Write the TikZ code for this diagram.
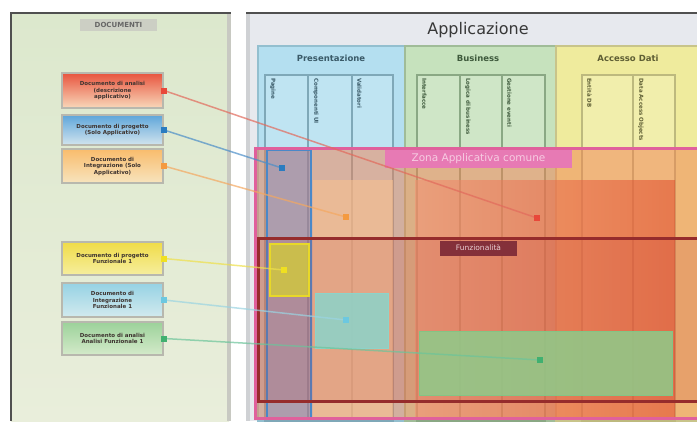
\documentclass[tikz,border=0pt]{standalone}
\usepackage{fontspec}
\setmainfont{DejaVu Sans}
% panels
\definecolor{frameline}{HTML}{505050}
\definecolor{docpanelA}{HTML}{DCE8CD}
\definecolor{docpanelB}{HTML}{E9EEDB}
\definecolor{panelgrey}{HTML}{C8C9C2}
\definecolor{apppanel}{HTML}{E7E9EE}
\definecolor{appedge}{HTML}{CFD1D4}
% documents
\definecolor{docedge}{HTML}{B8B8AE}
\definecolor{doctext}{HTML}{3E3430}
\definecolor{redA}{HTML}{E8543E}\definecolor{redB}{HTML}{F8D8BA}
\definecolor{blueA}{HTML}{5EA6DA}\definecolor{blueB}{HTML}{D2E4EE}
\definecolor{orA}{HTML}{F9BC6C}\definecolor{orB}{HTML}{F7E4BE}
\definecolor{yeA}{HTML}{F0DC48}\definecolor{yeB}{HTML}{F6EE9E}
\definecolor{cyA}{HTML}{96D2E4}\definecolor{cyB}{HTML}{D2EAEE}
\definecolor{grA}{HTML}{9CD29A}\definecolor{grB}{HTML}{D4EACA}
% connectors
\definecolor{cred}{HTML}{E26A5C}\definecolor{dred}{HTML}{E8483A}
\definecolor{cblue}{HTML}{4B8EC8}\definecolor{dblue}{HTML}{2A7CC0}
\definecolor{cor}{HTML}{F4A860}\definecolor{dor}{HTML}{F49A40}
\definecolor{cye}{HTML}{EEE04A}\definecolor{dye}{HTML}{F0E020}
\definecolor{ccy}{HTML}{9AD4E2}\definecolor{dcy}{HTML}{6CC8E0}
\definecolor{cgr}{HTML}{6CC49A}\definecolor{dgr}{HTML}{40B070}
% layers
\definecolor{presfill}{HTML}{B4DFF0}\definecolor{presedge}{HTML}{93BFCF}
\definecolor{prescol}{HTML}{7FA8B8}\definecolor{prestext}{HTML}{3A5A68}
\definecolor{busfill}{HTML}{C6E2BD}\definecolor{busedge}{HTML}{A0BC98}
\definecolor{buscol}{HTML}{8AA884}\definecolor{bustext}{HTML}{3E5A3C}
\definecolor{accfill}{HTML}{EFEB9D}\definecolor{accedge}{HTML}{C8C48A}
\definecolor{acccol}{HTML}{BDB97E}\definecolor{acctext}{HTML}{5E5E34}
% overlays
\definecolor{zoneedge}{HTML}{E0609C}\definecolor{zonefill}{HTML}{F08050}
\definecolor{zonelab}{HTML}{E77AB4}\definecolor{zonetext}{HTML}{F6CCE2}
\definecolor{orfill}{HTML}{F8C090}
\definecolor{redL}{HTML}{F49070}\definecolor{redR}{HTML}{E04828}
\definecolor{bluedge}{HTML}{4A88C8}\definecolor{bluefill}{HTML}{6078C8}
\definecolor{bandedge}{HTML}{962C2C}\definecolor{bandfill}{HTML}{C03030}
\definecolor{bandlab}{HTML}{84303A}\definecolor{bandtext}{HTML}{EAD0D4}
\definecolor{yeedge}{HTML}{E8D828}\definecolor{yefill}{HTML}{CFC640}
\definecolor{cyfill}{HTML}{8CD4CA}
\definecolor{grfill}{HTML}{8ECB8A}\definecolor{gredge}{HTML}{84C484}

\begin{document}
\begin{tikzpicture}[x=1pt,y=-1pt,
  docbox/.style 2 args={draw=docedge, line width=2pt, minimum width=101pt,
    inner sep=1pt, align=center, top color=#1, bottom color=#2,
    font=\fontsize{5.5}{6.5}\selectfont\bfseries, text=doctext},
  layerbox/.style 2 args={fill=#1, draw=#2, line width=1.5pt},
  subcol/.style 2 args={fill=#1, draw=#2, line width=1.8pt},
  layertitle/.style={font=\fontsize{8.5}{9}\selectfont\bfseries, inner sep=0pt},
  collabel/.style={rotate=-90, anchor=south west, inner sep=0pt,
    font=\fontsize{5.5}{5.5}\selectfont\bfseries},
  conn/.style={line width=1.5pt, draw opacity=0.7},
  dot/.style={fill=#1, minimum size=6pt, inner sep=0pt},
]
\useasboundingbox (0,0) rectangle (697,421);
\fill[white] (0,0) rectangle (697,421);

% ---------- document panel ----------
\shade[top color=docpanelA, bottom color=docpanelB] (11,13) rectangle (229,421);
\fill[panelgrey] (227,13) rectangle (231,421);
\draw[frameline, line width=1.5pt] (11,421) -- (11,13) -- (231,13);
\node[fill=panelgrey!80!docpanelA, text=black!60, minimum width=77pt,
      minimum height=12pt, inner sep=0pt, font=\fontsize{7}{7}\selectfont\bfseries]
      (doctitle) at (118.5,24.5) {DOCUMENTI};

\node[docbox={redA}{redB}, minimum height=35pt]  (d1) at (112.5,90.5)
  {Documento di analisi\\(descrizione\\applicativo)};
\node[docbox={blueA}{blueB}, minimum height=30pt] (d2) at (112.5,130)
  {Documento di progetto\\(Solo Applicativo)};
\node[docbox={orA}{orB}, minimum height=34pt]   (d3) at (112.5,166)
  {Documento di\\Integrazione (Solo\\Applicativo)};
\node[docbox={yeA}{yeB}, minimum height=33pt]   (d4) at (112.5,258.5)
  {Documento di progetto\\Funzionale 1};
\node[docbox={cyA}{cyB}, minimum height=34pt]   (d5) at (112.5,300)
  {Documento di\\Integrazione\\Funzionale 1};
\node[docbox={grA}{grB}, minimum height=33pt]   (d6) at (112.5,338.5)
  {Documento di analisi\\Analisi Funzionale 1};

% ---------- application panel ----------
\fill[apppanel] (246,13) rectangle (700,421);
\fill[appedge] (246,13) rectangle (250,421);
\draw[frameline, line width=1.5pt] (246,13) -- (700,13);
\node[font=\fontsize{16}{16}\selectfont, text=black!78] (apptitle) at (478,30) {Applicazione};

% layers
\draw[layerbox={presfill}{presedge}] (258,46) rectangle (405,421);
\draw[layerbox={busfill}{busedge}]   (405,46) rectangle (556,421);
\draw[layerbox={accfill}{accedge}]   (556,46) rectangle (702,421);
\node[layertitle, text=prestext] (tpres) at (331,58) {Presentazione};
\node[layertitle, text=bustext]  (tbus)  at (478,58) {Business};
\node[layertitle, text=acctext]  (tacc)  at (628,58) {Accesso Dati};

% sub-columns of each layer
\foreach \a/\b in {265/308, 308/352, 352/393}
  \draw[subcol={presfill!85!white}{prescol}] (\a,75) rectangle (\b,421);
\foreach \a/\b in {417/460, 460/502, 502/545}
  \draw[subcol={busfill!85!white}{buscol}] (\a,75) rectangle (\b,421);
\foreach \a/\b in {582/633, 633/675}
  \draw[subcol={accfill!85!white}{acccol}] (\a,75) rectangle (\b,421);

\node[collabel, text=prestext] (lp1) at (270,78) {Pagine};
\node[collabel, text=prestext] (lp2) at (313,78) {Componenti UI};
\node[collabel, text=prestext] (lp3) at (357,78) {Validatori};
\node[collabel, text=bustext]  (lb1) at (422,78) {Interfacce};
\node[collabel, text=bustext]  (lb2) at (465,78) {Logica di business};
\node[collabel, text=bustext]  (lb3) at (507,78) {Gestione eventi};
\node[collabel, text=acctext]  (la1) at (587,78) {Entità DB};
\node[collabel, text=acctext]  (la2) at (638,78) {Data Access Objects};

% ---------- overlays ----------
% common application zone
\fill[zonefill, fill opacity=0.5] (255,148) rectangle (702,418);
% shared application areas
\fill[orfill, fill opacity=0.6] (313,180) rectangle (393,418);
\shade[left color=redL, right color=redR, fill opacity=0.55] (415,180) rectangle (675,418);
% vertical presentation strip
\draw[bluedge, line width=2pt, fill=bluefill, fill opacity=0.35] (267,150) rectangle (311,418);
% functional band
\draw[bandedge, line width=3pt, fill=bandfill, fill opacity=0.15] (258,238) rectangle (702,401);
% functional items
\draw[yeedge, line width=1.5pt, fill=yefill, fill opacity=0.85] (270,244) rectangle (309,296);
\draw[cyfill, line width=1pt, fill=cyfill, fill opacity=0.85] (315,293) rectangle (388,348);
\draw[gredge, line width=1pt, fill=grfill, fill opacity=0.85] (419,331) rectangle (672,395);
% zone outline on top
\draw[zoneedge, line width=3pt] (255,148) rectangle (702,418);

\node[fill=zonelab, text=zonetext, minimum width=187pt, minimum height=18pt,
      inner sep=0pt, font=\fontsize{10.5}{11}\selectfont] (zonetitle) at (478.5,159)
      {Zona Applicativa comune};
\node[fill=bandlab, text=bandtext, minimum width=77pt, minimum height=15pt,
      inner sep=0pt, font=\fontsize{7.5}{8}\selectfont] (bandtitle) at (478.5,248)
      {Funzionalità};

% ---------- connectors ----------
\coordinate (t1) at (537,218);
\coordinate (t2) at (282,168);
\coordinate (t3) at (346,217);
\coordinate (t4) at (284,270);
\coordinate (t5) at (346,320);
\coordinate (t6) at (540,360);

\draw[conn, cred]  (d1.east) -- (t1);
\draw[conn, cblue] (d2.east) -- (t2);
\draw[conn, cor]   (d3.east) -- (t3);
\draw[conn, cye]   (d4.east) -- (t4);
\draw[conn, ccy]   (d5.east) -- (t5);
\draw[conn, cgr]   (d6.east) -- (t6);

\foreach \n/\c in {1/dred, 2/dblue, 3/dor, 4/dye, 5/dcy, 6/dgr} {
  \node[dot=\c] (s\n) at (d\n.east) {};
  \node[dot=\c] (e\n) at (t\n) {};
}
\end{tikzpicture}
\end{document}
